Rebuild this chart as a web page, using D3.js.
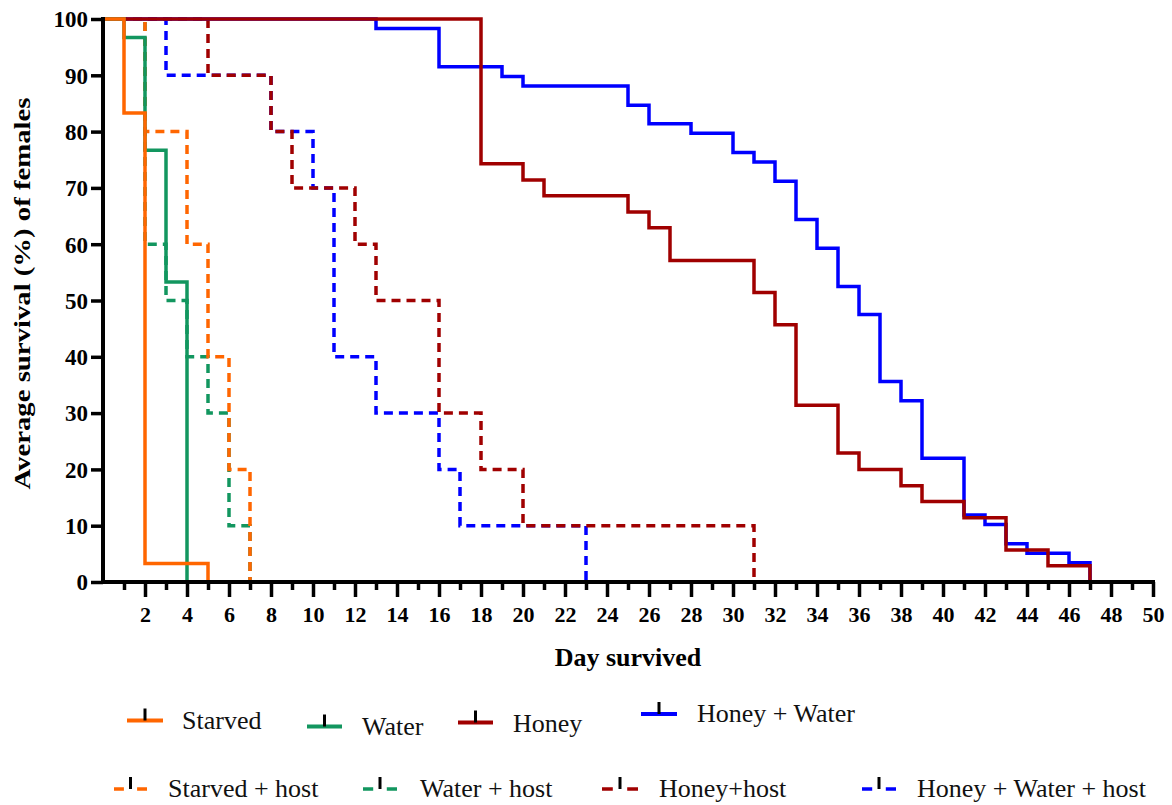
<!DOCTYPE html>
<html>
<head>
<meta charset="utf-8">
<script src="https://cdn.jsdelivr.net/npm/d3@7"></script>
<style>
  html, body { margin: 0; padding: 0; background: #fff; }
  svg { display: block; }
  text { font-family: "Liberation Serif", "Times New Roman", Times, serif; }
</style>
</head>
<body>
<svg id="chart" width="1172" height="805"></svg>
<script>
// ---------------- DATA ----------------
const seriesNames = ["Starved", "Water", "Honey", "Honey + Water",
  "Starved + host", "Water + host", "Honey+host", "Honey + Water + host"];

const starvedDays = [0, 1, 2, 5];
const starvedSurv = [100, 83.3, 3.3, 0];

const waterDays = [0, 1, 2, 3, 4];
const waterSurv = [100, 96.7, 76.7, 53.3, 0];

const honeyDays = [0, 18, 20, 21, 25, 26, 27, 31, 32, 33, 35, 36, 38, 39, 41, 43, 45, 47];
const honeySurv = [100, 74.3, 71.4, 68.6, 65.7, 62.9, 57.1, 51.4, 45.7, 31.4, 22.9, 20, 17.1, 14.3, 11.4, 5.7, 2.9, 0];

const honeyWaterDays = [0, 13, 16, 19, 20, 25, 26, 28, 30, 31, 32, 33, 34, 35, 36, 37, 38, 39, 41, 42, 43, 44, 46, 47];
const honeyWaterSurv = [100, 98.3, 91.5, 89.8, 88.1, 84.7, 81.4, 79.7, 76.3, 74.6, 71.2, 64.4, 59.3, 52.5, 47.5, 35.6, 32.2, 22.0, 11.9, 10.2, 6.8, 5.1, 3.4, 0];

const starvedHostDays = [0, 2, 4, 5, 6, 7];
const starvedHostSurv = [100, 80, 60, 40, 20, 0];

const waterHostDays = [0, 2, 3, 4, 5, 6, 7];
const waterHostSurv = [100, 60, 50, 40, 30, 10, 0];

const honeyHostDays = [0, 5, 8, 9, 12, 13, 16, 18, 20, 31];
const honeyHostSurv = [100, 90, 80, 70, 60, 50, 30, 20, 10, 0];

const honeyWaterHostDays = [0, 3, 8, 10, 11, 13, 16, 17, 23];
const honeyWaterHostSurv = [100, 90, 80, 70, 40, 30, 20, 10, 0];

const xTickValues = d3.range(1, 51);
const xTickLabels = d3.range(2, 51, 2);
const yTickLabels = d3.range(0, 101, 10);

const xTitle = "Day survived";
const yTitle = "Average survival (%) of females";

// ---------------- STYLE / LAYOUT ----------------
const colors = {
  "Starved": "#FF6600", "Water": "#12965F", "Honey": "#A00000", "Honey + Water": "#0000FF",
  "Starved + host": "#FF6600", "Water + host": "#12965F", "Honey+host": "#A00000", "Honey + Water + host": "#0000FF"
};
const dashed = {
  "Starved + host": true, "Water + host": true, "Honey+host": true, "Honey + Water + host": true
};
const DASH = "9,6";

// legend layout: [lineX1, lineX2, lineY, textX, textBaseline]
const legendLayout = {
  "Starved": [127, 163, 720.5, 182, 729],
  "Water": [307, 342, 726.5, 362, 735],
  "Honey": [458, 493, 722.5, 513, 732],
  "Honey + Water": [641, 677, 714, 697, 722],
  "Starved + host": [114, 147, 789, 168, 797],
  "Water + host": [363, 397, 789, 420, 797],
  "Honey+host": [602, 638, 789, 659, 797],
  "Honey + Water + host": [862, 896, 789, 917, 797]
};

const svg = d3.select("#chart");
const x = d3.scaleLinear().domain([0, 50]).range([103, 1153]);
const y = d3.scaleLinear().domain([0, 100]).range([582, 19]);

const series = {
  "Starved": [starvedDays, starvedSurv],
  "Water": [waterDays, waterSurv],
  "Honey": [honeyDays, honeySurv],
  "Honey + Water": [honeyWaterDays, honeyWaterSurv],
  "Starved + host": [starvedHostDays, starvedHostSurv],
  "Water + host": [waterHostDays, waterHostSurv],
  "Honey+host": [honeyHostDays, honeyHostSurv],
  "Honey + Water + host": [honeyWaterHostDays, honeyWaterHostSurv]
};

const line = d3.line().x(d => x(d[0])).y(d => y(d[1])).curve(d3.curveStepAfter);

// draw order: dashed first, then solids (orange on top)
const drawOrder = ["Honey + Water + host", "Honey+host", "Water + host", "Starved + host",
  "Honey + Water", "Honey", "Water", "Starved"];

const gLines = svg.append("g");
drawOrder.forEach(name => {
  const [ds, vs] = series[name];
  const pts = ds.map((d, i) => [d, vs[i]]);
  gLines.append("path")
    .attr("d", line(pts))
    .attr("fill", "none")
    .attr("stroke", colors[name])
    .attr("stroke-width", 3.5)
    .attr("stroke-dasharray", dashed[name] ? DASH : null)
    .attr("stroke-linejoin", "miter")
    .attr("stroke-linecap", "butt");
});

// ---------------- AXES ----------------
const xMinor = svg.append("g").attr("transform", `translate(0,${y(0)})`)
  .call(d3.axisBottom(x).tickValues(xTickValues.filter(d => d % 2 === 1)).tickSize(8).tickFormat("").tickSizeOuter(0));
xMinor.select(".domain").remove();
xMinor.selectAll(".tick line").attr("stroke", "#000").attr("stroke-width", 3.5);

const xMajor = svg.append("g").attr("transform", `translate(0,${y(0)})`)
  .call(d3.axisBottom(x).tickValues(xTickLabels).tickSize(15).tickSizeOuter(0));
xMajor.attr("font-family", null);
xMajor.select(".domain").remove();
xMajor.selectAll(".tick line").attr("stroke", "#000").attr("stroke-width", 3.5);
xMajor.selectAll(".tick text")
  .attr("dy", null).attr("y", 40)
  .attr("fill", "#000")
  .style("font-family", "'Liberation Serif', 'Times New Roman', serif")
  .style("font-weight", "bold")
  .style("font-size", "22px");

const yAx = svg.append("g").attr("transform", `translate(${x(0)},0)`)
  .call(d3.axisLeft(y).tickValues(yTickLabels).tickSize(12).tickPadding(3).tickSizeOuter(0));
yAx.attr("font-family", null);
yAx.select(".domain").remove();
yAx.selectAll(".tick line").attr("stroke", "#000").attr("stroke-width", 3.5);
yAx.selectAll(".tick text")
  .attr("fill", "#000")
  .attr("dy", "0.34em")
  .style("font-family", "'Liberation Serif', 'Times New Roman', serif")
  .style("font-weight", "bold")
  .style("font-size", "23px");

// axis lines
svg.append("line").attr("x1", x(0)).attr("x2", x(0)).attr("y1", y(100) - 2).attr("y2", y(0) + 2)
  .attr("stroke", "#000").attr("stroke-width", 4);
svg.append("line").attr("x1", x(0) - 2).attr("x2", x(50) + 2).attr("y1", y(0)).attr("y2", y(0))
  .attr("stroke", "#000").attr("stroke-width", 4);

// titles
svg.append("text").attr("x", 628).attr("y", 666).attr("text-anchor", "middle")
  .style("font-weight", "bold").style("font-size", "26px").text(xTitle);

svg.append("text")
  .attr("transform", `translate(30,${(y(0) + y(100)) / 2 - 7}) rotate(-90)`)
  .attr("text-anchor", "middle")
  .attr("textLength", 392).attr("lengthAdjust", "spacingAndGlyphs")
  .style("font-weight", "bold").style("font-size", "24px").text(yTitle);

// ---------------- LEGEND ----------------
const gLeg = svg.append("g");
seriesNames.forEach(name => {
  const [x1, x2, ly, tx, ty] = legendLayout[name];
  const w = x2 - x1;
  gLeg.append("line").attr("x1", x1).attr("x2", x2).attr("y1", ly).attr("y2", ly)
    .attr("stroke", colors[name]).attr("stroke-width", dashed[name] ? 3.5 : 4)
    .attr("stroke-dasharray", dashed[name] ? `${w * 0.3},${w * 0.4},${w * 0.3}` : null);
  const cx = (x1 + x2) / 2;
  gLeg.append("line").attr("x1", cx).attr("x2", cx).attr("y1", ly - 12).attr("y2", ly)
    .attr("stroke", "#000").attr("stroke-width", 3);
  gLeg.append("text").attr("x", tx).attr("y", ty)
    .style("font-size", "26px").attr("fill", "#111").text(name);
});
</script>
</body>
</html>
